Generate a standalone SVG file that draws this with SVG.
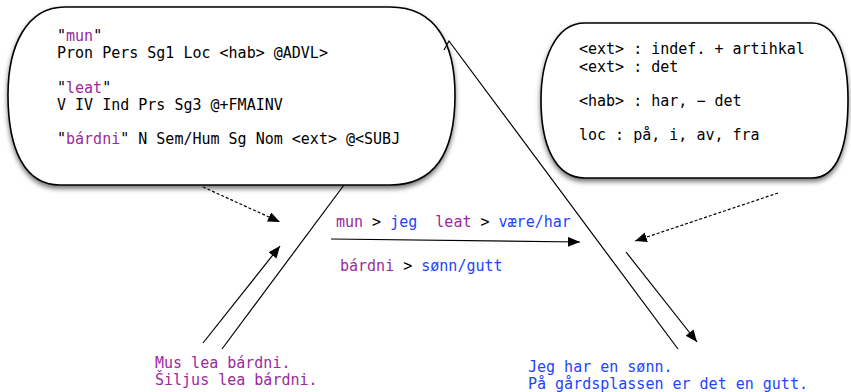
<svg xmlns="http://www.w3.org/2000/svg" width="851" height="392" viewBox="0 0 851 392">
<style>
text{font-family:"DejaVu Sans Mono","Liberation Mono",monospace;font-size:15px;fill:#000;white-space:pre}
.p{fill:#9b2a9b}
.b{fill:#2244ff}
.bub{fill:#fff;stroke:#000;stroke-width:1.6;filter:url(#sh)}
.ln{fill:none;stroke:#000;stroke-width:1.2}
.ar{marker-end:url(#ah)}
.da{stroke-dasharray:3 2}
</style>
<defs>
<filter id="sh" x="-10%" y="-10%" width="120%" height="130%">
<feDropShadow dx="0" dy="3" stdDeviation="2.5" flood-color="#000" flood-opacity="0.55"/>
</filter>
<marker id="ah" markerUnits="userSpaceOnUse" markerWidth="14" markerHeight="12" refX="12" refY="5" orient="auto">
<path d="M0,0 L12,5 L0,10 Z" fill="#000"/>
</marker>
</defs>
<g id="left-bubble">
<path class="bub" d="M65,7 H390 C437,7 455,45 455,95 C455,150 437,185 390,185 H60 C25,185 8,150 8,95 C8,45 27,7 65,7 Z"/>
<text x="57" y="41">"<tspan class="p">mun</tspan>"</text>
<text x="57" y="58">Pron Pers Sg1 Loc &lt;hab&gt; @ADVL&gt;</text>
<text x="57" y="93">"<tspan class="p">leat</tspan>"</text>
<text x="57" y="110">V IV Ind Prs Sg3 @+FMAINV</text>
<text x="57" y="144">"<tspan class="p">bárdni</tspan>" N Sem/Hum Sg Nom &lt;ext&gt; @&lt;SUBJ</text>
</g>
<g id="right-bubble">
<path class="bub" d="M585,23 H812 C838,23 848,60 848,100 C848,145 838,178 812,178 H585 C555,178 541,145 541,100 C541,60 555,23 585,23 Z"/>
<text x="579" y="54">&lt;ext&gt; : indef. + artihkal</text>
<text x="579" y="72">&lt;ext&gt; : det</text>
<text x="579" y="106">&lt;hab&gt; : har, − det</text>
<text x="579" y="140">loc : på, i, av, fra</text>
</g>
<g id="middle-labels">
<text x="336" y="227" xml:space="preserve"><tspan class="p">mun</tspan> &gt; <tspan class="b">jeg</tspan>  <tspan class="p">leat</tspan> &gt; <tspan class="b">være/har</tspan></text>
<text x="340" y="271"><tspan class="p">bárdni</tspan> &gt; <tspan class="b">sønn/gutt</tspan></text>
</g>
<g id="source-sentences">
<text class="p" x="155" y="368">Mus lea bárdni.</text>
<text class="p" x="155" y="385">Šiljus lea bárdni.</text>
</g>
<g id="target-sentences">
<text class="b" x="528" y="372">Jeg har en sønn.</text>
<text class="b" x="528" y="389">På gårdsplassen er det en gutt.</text>
</g>
<g id="connectors">
<path class="ln ar da" d="M203,187 L280,222"/>
<path class="ln" d="M344,185 L222,349"/>
<path class="ln ar" d="M203,343 L280,246"/>
<path class="ln ar" d="M331,239 L580,242"/>
<path class="ln" d="M444,50 L449,41 L678,349"/>
<path class="ln ar" d="M626,252 L697,342"/>
<path class="ln ar da" d="M778,193 L635,241"/>
</g>
</svg>
